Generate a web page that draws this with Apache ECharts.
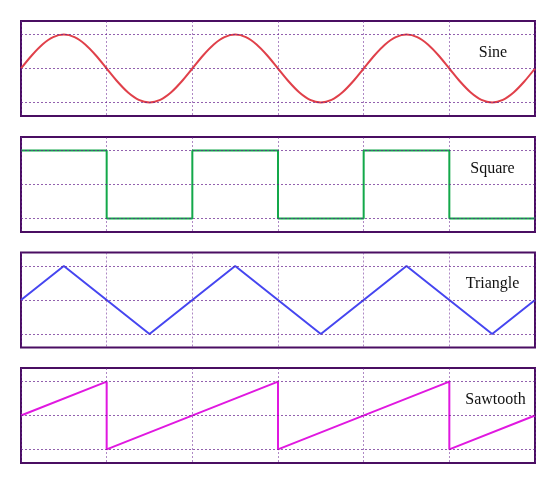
<!DOCTYPE html>
<html>
<head>
<meta charset="utf-8">
<script src="https://cdn.jsdelivr.net/npm/echarts@6/dist/echarts.min.js"></script>
<style>
html,body{margin:0;padding:0;background:#fff;}
#chart{width:557px;height:480px;}
</style>
</head>
<body>
<div id="chart"></div>
<script>
// Panel names
var waveNames = ["Sine", "Square", "Triangle", "Sawtooth"];

// Sine wave: x from 0 to 6 step 0.125
var sineX = [0,0.125,0.25,0.375,0.5,0.625,0.75,0.875,1,1.125,1.25,1.375,1.5,1.625,1.75,1.875,
             2,2.125,2.25,2.375,2.5,2.625,2.75,2.875,3,3.125,3.25,3.375,3.5,3.625,3.75,3.875,
             4,4.125,4.25,4.375,4.5,4.625,4.75,4.875,5,5.125,5.25,5.375,5.5,5.625,5.75,5.875,6];
var sineY = [0,0.383,0.707,0.924,1,0.924,0.707,0.383,0,-0.383,-0.707,-0.924,-1,-0.924,-0.707,-0.383,
             0,0.383,0.707,0.924,1,0.924,0.707,0.383,0,-0.383,-0.707,-0.924,-1,-0.924,-0.707,-0.383,
             0,0.383,0.707,0.924,1,0.924,0.707,0.383,0,-0.383,-0.707,-0.924,-1,-0.924,-0.707,-0.383,0];

// Square wave
var squareX = [0,1,1,2,2,3,3,4,4,5,5,6];
var squareY = [1,1,-1,-1,1,1,-1,-1,1,1,-1,-1];

// Triangle wave
var triangleX = [0,0.5,1.5,2.5,3.5,4.5,5.5,6];
var triangleY = [0,1,-1,1,-1,1,-1,0];

// Sawtooth wave
var sawX = [0,1,1,3,3,5,5,6];
var sawY = [0,1,-1,1,-1,1,-1,0];

// Reference grid levels
var gridLevels = [-1, 0, 1];

var waveXs = [sineX, squareX, triangleX, sawX];
var waveYs = [sineY, squareY, triangleY, sawY];
var colors = ["#e0404a", "#13a84a", "#4646f0", "#e018e0"];
var tops = [21, 137, 252.5, 368];
var labelX = [493, 492.5, 492.5, 495.5];
var panelH = 95;

function pairs(xs, ys){ return xs.map(function(x,i){ return [x, ys[i]]; }); }

var grids = [], xAxes = [], yAxes = [], series = [], graphics = [];
for (var i = 0; i < 4; i++) {
  grids.push({left: 21, width: 514, top: tops[i], height: panelH, show: true,
    borderColor: "#4a0e62", borderWidth: 2, backgroundColor: "#fff", containLabel: false});
  xAxes.push({type: "value", gridIndex: i, min: 0, max: 6, interval: 1,
    axisLine: {show: false}, axisTick: {show: false}, axisLabel: {show: false},
    splitLine: {show: true, lineStyle: {color: "rgba(110,40,150,0.55)", type: [2,2], width: 1}}});
  yAxes.push({type: "value", gridIndex: i, min: -1.4, max: 1.4,
    axisLine: {show: false}, axisTick: {show: false}, axisLabel: {show: false},
    splitLine: {show: false}});
  series.push({type: "line", xAxisIndex: i, yAxisIndex: i, data: [], silent: true,
    markLine: {silent: true, symbol: "none", label: {show: false},
      lineStyle: {color: "rgba(100,30,140,0.7)", type: [2,2], width: 1},
      data: gridLevels.map(function(v){ return {yAxis: v}; })}});
  series.push({type: "line", name: waveNames[i], xAxisIndex: i, yAxisIndex: i,
    data: pairs(waveXs[i], waveYs[i]), showSymbol: false, symbol: "none",
    smooth: i === 0 ? 0.3 : false, animation: false,
    lineStyle: {color: colors[i], width: 2}, z: 3});
  graphics.push({type: "text", x: labelX[i], y: tops[i] + 31.5,
    style: {text: waveNames[i], font: "16px 'Liberation Serif', 'Times New Roman', serif",
      fill: "#111", textAlign: "center", textVerticalAlign: "middle"}, z: 10});
}

var chart = echarts.init(document.getElementById("chart"), null, {renderer: "canvas"});
chart.setOption({
  animation: false,
  backgroundColor: "#fff",
  grid: grids, xAxis: xAxes, yAxis: yAxes, series: series, graphic: graphics
});
</script>
</body>
</html>
